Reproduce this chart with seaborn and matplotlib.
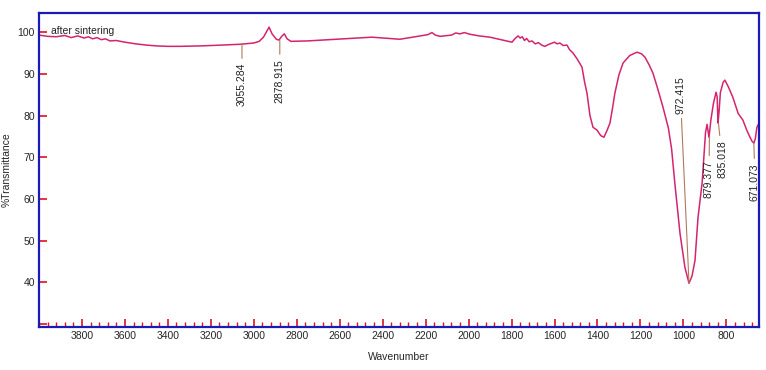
import numpy as np
import pandas as pd
import seaborn as sns
import matplotlib.pyplot as plt
from matplotlib.ticker import MultipleLocator

# spectrum (wavenumber, %T)
wavenumber = [4000, 3960, 3920, 3880, 3850, 3820, 3790, 3770, 3750, 3730, 3710, 3690, 3670, 3640,
              3600, 3550, 3500, 3450, 3400, 3344, 3250, 3150, 3064, 3000, 2975, 2955, 2940, 2929,
              2915, 2895, 2883, 2870, 2858, 2845, 2827, 2750, 2650, 2550, 2450, 2400, 2320, 2250,
              2190, 2171, 2155, 2133, 2080, 2060, 2040, 2020, 1994, 1950, 1901, 1850, 1815, 1798,
              1785, 1770, 1760, 1750, 1740, 1730, 1718, 1705, 1690, 1675, 1660, 1645, 1630, 1615,
              1600, 1588, 1575, 1560, 1542, 1530, 1514, 1495, 1472, 1460, 1449, 1435, 1421, 1402,
              1385, 1370, 1355, 1342, 1330, 1319, 1300, 1281, 1250, 1216, 1195, 1179, 1160, 1142,
              1120, 1095, 1070, 1055, 1040, 1016, 993, 974, 960, 946, 932, 913, 905, 897, 890,
              881, 872, 860, 848, 843, 839, 834, 828, 815, 807, 790, 770, 745, 723, 705, 690,
              680, 672, 665, 658, 650]
transmittance = [99.3, 99.0, 98.9, 99.2, 98.7, 99.1, 98.6, 98.9, 98.4, 98.7, 98.2, 98.4, 97.9, 98.0,
                 97.6, 97.2, 96.9, 96.7, 96.6, 96.6, 96.7, 96.9, 97.1, 97.4, 97.8, 98.8, 100.2, 101.2,
                 99.6, 98.3, 98.1, 99.0, 99.6, 98.4, 97.8, 97.9, 98.2, 98.5, 98.8, 98.6, 98.3, 98.9,
                 99.4, 99.9, 99.3, 99.0, 99.3, 99.8, 99.6, 99.9, 99.5, 99.1, 98.8, 98.2, 97.8, 97.6,
                 98.4, 99.1, 98.6, 98.9, 98.0, 98.5, 97.7, 97.9, 97.2, 97.5, 96.9, 96.6, 97.0, 97.3,
                 97.6, 97.2, 97.4, 96.8, 96.9, 95.8, 95.0, 93.6, 91.6, 88.0, 85.4, 80.0, 77.2, 76.5,
                 75.2, 74.8, 76.5, 78.2, 81.8, 85.4, 89.8, 92.6, 94.4, 95.2, 94.8, 94.0, 92.2, 90.2,
                 86.5, 82.0, 77.0, 72.0, 63.8, 51.8, 43.6, 39.8, 41.5, 45.3, 55.6, 63.8, 70.0, 76.0, 77.9,
                 74.8, 79.0, 83.0, 85.6, 84.5, 78.2, 81.0, 85.5, 88.0, 88.5, 86.8, 84.4, 80.5, 78.9, 76.5, 74.8,
                 73.8, 73.4, 74.5, 77.2, 78.0]

# peak labels: peak position, %T on curve, text x, text top
peak_labels = ["3055.284", "2878.915", "972.415", "879.377", "835.018", "671.073"]
peak_wn = [3055, 2879, 974, 879, 837, 672]
peak_t = [97.2, 98.1, 39.8, 74.8, 78.2, 73.4]
text_wn = [3055, 2879, 1014, 881, 819, 667]
text_top = [92.6, 93.6, 89.5, 69.3, 74.1, 68.6]

df = pd.DataFrame({"Wavenumber": wavenumber, "T": transmittance})

sns.set_style("white")
plt.rcParams["font.family"] = ["Liberation Sans", "DejaVu Sans"]

fig = plt.figure(figsize=(7.66, 3.70), dpi=100)
ax = fig.add_axes([0.0509, 0.1162, 0.94, 0.8487])

sns.lineplot(data=df, x="Wavenumber", y="T", color="#d4246e", linewidth=1.1,
             estimator=None, sort=False, ax=ax)

for lab, px, pt, tx, tt in zip(peak_labels, peak_wn, peak_t, text_wn, text_top):
    ax.annotate(lab, xy=(px, pt), xytext=(tx, tt), rotation=90, ha="center", va="top",
                fontsize=7.5, color="#222222",
                arrowprops=dict(arrowstyle="-", color="#b07a5a", lw=0.8, shrinkA=1, shrinkB=0))

ax.text(3945, 100.2, "after sintering", fontsize=7.5, va="center", ha="left", color="#222222")

ax.set_xlim(4000, 648)
ax.set_ylim(29.3, 104.6)
ax.set_yticks([30, 40, 50, 60, 70, 80, 90, 100])
ax.set_yticklabels(["", "40", "50", "60", "70", "80", "90", "100"])
ax.set_xticks(range(800, 4000, 200))
ax.set_xticklabels([str(v) for v in range(800, 4000, 200)])
ax.xaxis.set_minor_locator(MultipleLocator(40))

ax.tick_params(axis="both", which="major", direction="in", color="#e0101a", length=6,
               width=1.2, labelsize=7.5, pad=3)
ax.tick_params(axis="x", which="minor", direction="in", color="#e0101a", length=3.5,
               width=1.0, bottom=True)
ax.tick_params(axis="y", which="minor", left=False)
ax.tick_params(axis="x", which="major", bottom=True)
ax.tick_params(axis="y", which="major", left=True)

for s in ax.spines.values():
    s.set_color("#1a1ab4")
    s.set_linewidth(1.6)

ax.set_xlabel("Wavenumber", fontsize=7.5, labelpad=8)
ax.set_ylabel("%Transmittance", fontsize=7.5, labelpad=4)

fig.savefig("out.png", dpi=100)
